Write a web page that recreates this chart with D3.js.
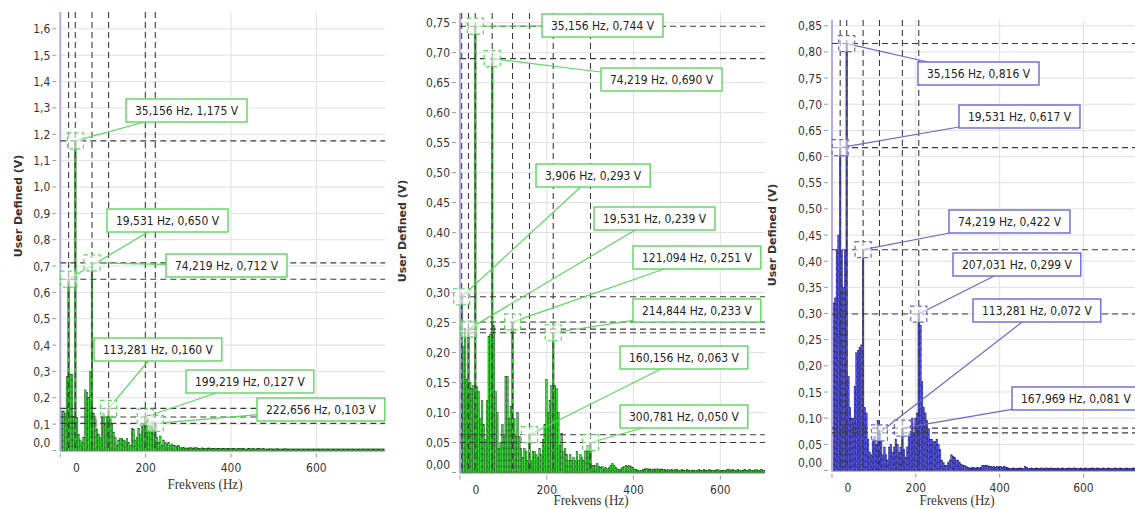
<!DOCTYPE html>
<html>
<head>
<meta charset="utf-8">
<script src="https://cdn.jsdelivr.net/npm/d3@7"></script>
<style>
  html, body { margin: 0; padding: 0; background: #fff; }
  svg { display: block; }
</style>
</head>
<body>
<svg id="chart" width="1135" height="509"></svg>
<script>
// FFT bin spacing in Hz (1000 Hz sample rate, 256 points)
const binWidth = 1000 / 256;

// Spectrum amplitudes (V) per FFT bin, one list per measurement
const spectrumA = [
  0.11, 0.15, 0.15, 0.14, 0.28, 0.650, 0.29, 0.29, 0.13, 1.175,
  0.125, 0.06, 0.04, 0.03, 0.05, 0.23, 0.22, 0.20, 0.30, 0.712,
  0.14, 0.12, 0.08, 0.06, 0.05, 0.13, 0.14, 0.10, 0.13, 0.160,
  0.12, 0.10, 0.07, 0.05, 0.02, 0.04, 0.045, 0.045, 0.04, 0.035,
  0.045, 0.03, 0.02, 0.085, 0.08, 0.04, 0.05, 0.085, 0.06, 0.09,
  0.10, 0.127, 0.09, 0.12, 0.09, 0.11, 0.08, 0.103, 0.05, 0.03,
  0.055, 0.02, 0.04, 0.03, 0.025, 0.03, 0.02, 0.025, 0.02, 0.02,
  0.015, 0.02, 0.012, 0.01, 0.012, 0.009, 0.01, 0.009, 0.012, 0.01,
  0.009, 0.012, 0.01, 0.009, 0.008, 0.01, 0.009, 0.007, 0.009, 0.01,
  0.009, 0.008, 0.007, 0.009, 0.008, 0.007, 0.008, 0.009, 0.007, 0.007,
  0.008, 0.007, 0.007, 0.007, 0.008, 0.007, 0.006, 0.007, 0.009, 0.008,
  0.007, 0.006, 0.006, 0.007, 0.008, 0.006, 0.007, 0.006, 0.007, 0.008,
  0.007, 0.006, 0.007, 0.006, 0.006, 0.006, 0.007, 0.006, 0.006, 0.006,
  0.007, 0.006, 0.006, 0.006, 0.006, 0.007, 0.006, 0.006, 0.006, 0.006,
  0.006, 0.006, 0.006, 0.006, 0.006, 0.006, 0.006, 0.006, 0.006, 0.006,
  0.006, 0.006, 0.006, 0.006, 0.006, 0.006, 0.006, 0.006, 0.006, 0.006,
  0.006, 0.006, 0.006, 0.006, 0.006, 0.006, 0.006, 0.006, 0.006, 0.006,
  0.006, 0.006, 0.006, 0.006, 0.006, 0.006, 0.006, 0.006, 0.006, 0.006,
  0.006, 0.006, 0.006, 0.006, 0.006, 0.006, 0.006, 0.006, 0.006, 0.006,
  0.006, 0.006, 0.006, 0.006, 0.006
];

const spectrumB = [
  0.21, 0.293, 0.21, 0.24, 0.155, 0.239, 0.15, 0.14, 0.145, 0.744,
  0.143, 0.135, 0.09, 0.12, 0.08, 0.055, 0.12, 0.227, 0.23, 0.690,
  0.245, 0.135, 0.10, 0.04, 0.05, 0.08, 0.06, 0.16, 0.16, 0.09,
  0.11, 0.251, 0.09, 0.06, 0.10, 0.06, 0.04, 0.025, 0.04, 0.035,
  0.02, 0.063, 0.02, 0.035, 0.035, 0.03, 0.025, 0.04, 0.03, 0.055,
  0.08, 0.155, 0.10, 0.12, 0.145, 0.233, 0.145, 0.14, 0.10, 0.045,
  0.065, 0.035, 0.04, 0.03, 0.02, 0.03, 0.02, 0.025, 0.02, 0.035,
  0.02, 0.03, 0.025, 0.02, 0.035, 0.045, 0.045, 0.050, 0.012, 0.012,
  0.012, 0.015, 0.01, 0.008, 0.01, 0.006, 0.008, 0.006, 0.008, 0.012,
  0.015, 0.012, 0.008, 0.006, 0.005, 0.006, 0.008, 0.01, 0.012, 0.01,
  0.012, 0.01, 0.008, 0.006, 0.005, 0.004, 0.003, 0.004, 0.005, 0.006,
  0.007, 0.006, 0.006, 0.005, 0.006, 0.005, 0.006, 0.006, 0.005, 0.006,
  0.005, 0.005, 0.004, 0.005, 0.004, 0.005, 0.004, 0.005, 0.005, 0.004,
  0.004, 0.005, 0.004, 0.004, 0.005, 0.004, 0.003, 0.004, 0.004, 0.003,
  0.004, 0.005, 0.004, 0.004, 0.005, 0.004, 0.004, 0.005, 0.004, 0.004,
  0.004, 0.004, 0.005, 0.004, 0.003, 0.004, 0.004, 0.004, 0.005, 0.005,
  0.004, 0.005, 0.004, 0.004, 0.005, 0.004, 0.004, 0.004, 0.005, 0.004,
  0.004, 0.005, 0.004, 0.004, 0.004, 0.005, 0.004, 0.004, 0.005, 0.004,
  0.004
];

const spectrumC = [
  0.12, 0.32, 0.33, 0.42, 0.45, 0.617, 0.42, 0.35, 0.42, 0.816,
  0.18, 0.12, 0.10, 0.10, 0.16, 0.225, 0.23, 0.235, 0.24, 0.422,
  0.12, 0.11, 0.06, 0.035, 0.03, 0.06, 0.065, 0.05, 0.095, 0.072,
  0.055, 0.03, 0.045, 0.03, 0.02, 0.045, 0.05, 0.035, 0.045, 0.06,
  0.05, 0.035, 0.045, 0.081, 0.04, 0.025, 0.045, 0.07, 0.075, 0.10,
  0.07, 0.10, 0.11, 0.299, 0.278, 0.17, 0.12, 0.11, 0.095, 0.08,
  0.06, 0.06, 0.055, 0.055, 0.06, 0.05, 0.04, 0.02, 0.015, 0.01,
  0.01, 0.015, 0.02, 0.03, 0.027, 0.025, 0.02, 0.02, 0.015, 0.012,
  0.01, 0.01, 0.008, 0.006, 0.005, 0.005, 0.006, 0.005, 0.005, 0.006,
  0.005, 0.006, 0.01, 0.01, 0.009, 0.01, 0.008, 0.008, 0.007, 0.008,
  0.006, 0.008, 0.007, 0.008, 0.006, 0.008, 0.007, 0.006, 0.004, 0.004,
  0.004, 0.005, 0.004, 0.004, 0.004, 0.005, 0.004, 0.004, 0.008, 0.006,
  0.004, 0.004, 0.005, 0.004, 0.004, 0.005, 0.004, 0.004, 0.005, 0.004,
  0.004, 0.005, 0.004, 0.004, 0.005, 0.004, 0.004, 0.004, 0.005, 0.004,
  0.004, 0.005, 0.004, 0.004, 0.004, 0.005, 0.004, 0.004, 0.005, 0.004,
  0.004, 0.004, 0.005, 0.004, 0.004, 0.005, 0.004, 0.004, 0.004, 0.005,
  0.004, 0.004, 0.005, 0.004, 0.004, 0.004, 0.005, 0.004, 0.004, 0.005,
  0.004, 0.004, 0.004, 0.005, 0.004, 0.004, 0.005, 0.004, 0.004, 0.004,
  0.005, 0.004, 0.004, 0.004, 0.005, 0.004
];

// Marked peak frequencies (Hz) for each measurement
const peaksA = [35.156, 19.531, 74.219, 113.281, 199.219, 222.656];
const peaksB = [35.156, 74.219, 3.906, 19.531, 121.094, 214.844, 160.156, 300.781];
const peaksC = [35.156, 19.531, 74.219, 207.031, 113.281, 167.969];

// Axis tick values
const xTicks = [0, 200, 400, 600];
const yTicksA = [0, 0.1, 0.2, 0.3, 0.4, 0.5, 0.6, 0.7, 0.8, 0.9, 1.0, 1.1, 1.2, 1.3, 1.4, 1.5, 1.6];
const yTicksB = [0, 0.05, 0.10, 0.15, 0.20, 0.25, 0.30, 0.35, 0.40, 0.45, 0.50, 0.55, 0.60, 0.65, 0.70, 0.75];
const yTicksC = [0, 0.05, 0.10, 0.15, 0.20, 0.25, 0.30, 0.35, 0.40, 0.45, 0.50, 0.55, 0.60, 0.65, 0.70, 0.75, 0.80, 0.85];

const xTitle = "Frekvens (Hz)";
const yTitle = "User Defined (V)";

// Callout box positions (left, top) in page pixels, in the order of each peak list
const calloutsA = [[126, 99], [107, 209], [166, 254], [94, 338], [186, 370], [257, 398]];
const calloutsB = [[542, 14], [601, 68], [536, 164], [594, 207], [633, 246], [633, 299], [620, 346], [620, 405]];
const calloutsC = [[918, 62], [959, 105], [949, 210], [953, 253], [973, 299], [1012, 387]];

const green = { fill: "#22c822", stroke: "#0c3a0c", stripe: "#7af57a", call: "#5cd65c" };
const blue  = { fill: "#3c3cd2", stroke: "#141456", stripe: "#9090ff", call: "#6767d6" };

const panels = [
  { series: spectrumA, peaks: peaksA, callouts: calloutsA, yTicks: yTicksA, yFmt: ".1f",
    left: 60.3, right: 385, top: 12, base: 450.5, yMax: 1.664, hzMax: 761,
    yTitlePos: [18, 206], xTitlePos: [205, 484], col: green },
  { series: spectrumB, peaks: peaksB, callouts: calloutsB, yTicks: yTicksB, yFmt: ".2f",
    left: 460, right: 765, top: 13, base: 472.5, yMax: 0.766, hzMax: 703,
    yTitlePos: [402, 231], xTitlePos: [591, 500], col: green },
  { series: spectrumC, peaks: peaksC, callouts: calloutsC, yTicks: yTicksC, yFmt: ".2f",
    left: 832, right: 1135, top: 20, base: 470.5, yMax: 0.861, hzMax: 723,
    yTitlePos: [772, 235], xTitlePos: [957, 500], col: blue }
];

const locale = d3.formatLocale({ decimal: ",", thousands: ".", grouping: [3], currency: ["", ""] });
const fmt3 = locale.format(".3f");

const sansSX = 0.86;   // horizontal squeeze applied to sans text
const svg = d3.select("#chart");

function sansText(g, x, y, str, anchor, size, color) {
  return g.append("text")
    .attr("transform", `translate(${x},${y}) scale(${sansSX},1)`)
    .attr("text-anchor", anchor)
    .attr("dy", "0.36em")
    .style("font-family", "'DejaVu Sans', sans-serif")
    .style("font-size", size + "px")
    .style("fill", color)
    .text(str);
}

panels.forEach((p, pi) => {
  const g = svg.append("g");
  const x = d3.scaleLinear().domain([0, p.hzMax]).range([p.left, p.right]);
  const y = d3.scaleLinear().domain([0, p.yMax]).range([p.base, p.top]);
  const fmtY = locale.format(p.yFmt);

  const clipId = "clip" + pi;
  svg.append("clipPath").attr("id", clipId)
    .append("rect").attr("x", p.left).attr("y", p.top)
    .attr("width", p.right - p.left).attr("height", p.base - p.top + 1);

  // grid
  g.append("g").selectAll("line").data(p.yTicks).join("line")
    .attr("x1", p.left).attr("x2", p.right)
    .attr("y1", d => y(d)).attr("y2", d => y(d))
    .attr("stroke", "#e0e0e0").attr("stroke-width", 1);
  g.append("g").selectAll("line").data(xTicks.filter(d => d > 0)).join("line")
    .attr("x1", d => x(d)).attr("x2", d => x(d))
    .attr("y1", p.top).attr("y2", p.base)
    .attr("stroke", "#e0e0e0").attr("stroke-width", 1);

  // axis ticks and labels
  g.append("g").selectAll("line").data(p.yTicks).join("line")
    .attr("x1", p.left - 8).attr("x2", p.left - 4)
    .attr("y1", d => y(d)).attr("y2", d => y(d))
    .attr("stroke", "#999");
  p.yTicks.forEach(t => {
    const yy = y(t) + (t === 0 ? -8 : 0);
    sansText(g, p.left - 10, yy, fmtY(t), "end", 12.5, "#333");
  });
  g.append("g").selectAll("line").data(xTicks).join("line")
    .attr("x1", d => x(d)).attr("x2", d => x(d))
    .attr("y1", p.base + 3).attr("y2", p.base + 7)
    .attr("stroke", "#999");
  xTicks.forEach(t => {
    const xx = x(t) + (t === 0 ? 16 : 0);
    sansText(g, xx, p.base + 16.8, String(t), "middle", 12.5, "#333");
  });

  // bottom axis line
  g.append("line").attr("x1", p.left).attr("x2", p.right)
    .attr("y1", p.base + 1).attr("y2", p.base + 1)
    .attr("stroke", "#bbb").attr("stroke-width", 1);

  // bars
  const bw = x(binWidth) - x(0);
  const plot = g.append("g").attr("clip-path", `url(#${clipId})`);
  const bars = p.series.map((v, k) => ({ f: k * binWidth, v }));
  plot.append("g").selectAll("rect").data(bars).join("rect")
    .attr("x", d => x(d.f) - bw / 2)
    .attr("y", d => y(d.v))
    .attr("width", bw)
    .attr("height", d => y(0) - y(d.v))
    .attr("fill", p.col.fill)
    .attr("stroke", p.col.stroke)
    .attr("stroke-width", 0.4);
  plot.append("g").selectAll("line").data(bars.filter(d => y(0) - y(d.v) > 4)).join("line")
    .attr("x1", d => x(d.f)).attr("x2", d => x(d.f))
    .attr("y1", d => y(d.v) + 1).attr("y2", y(0))
    .attr("stroke", p.col.stripe).attr("stroke-width", 0.5)
    .attr("stroke-opacity", 0.8)
    .attr("stroke-dasharray", "4,2");

  // left axis line
  g.append("line").attr("x1", p.left).attr("x2", p.left)
    .attr("y1", p.top).attr("y2", p.base + 1)
    .attr("stroke", "#b6abe6").attr("stroke-width", 2);

  // peak cursors
  const marks = p.peaks.map((f, i) => {
    const k = Math.round(f / binWidth);
    return { f, v: p.series[k], px: x(k * binWidth), py: y(p.series[k]), box: p.callouts[i] };
  });
  const cur = g.append("g").attr("clip-path", `url(#${clipId})`);
  marks.forEach(m => {
    cur.append("line").attr("x1", m.px).attr("x2", m.px).attr("y1", p.top).attr("y2", p.base)
      .attr("stroke", "#3c3c3c").attr("stroke-width", 1.1).attr("stroke-dasharray", "6,4");
    cur.append("line").attr("x1", p.left).attr("x2", p.right).attr("y1", m.py).attr("y2", m.py)
      .attr("stroke", "#3c3c3c").attr("stroke-width", 1.1).attr("stroke-dasharray", "6,4");
  });

  // callouts
  marks.forEach(m => {
    const cg = g.append("g");
    const label = `${fmt3(m.f)} Hz, ${fmt3(m.v)} V`;
    const [bx, by] = m.box;
    const t = sansText(cg, 0, 0, label, "start", 12.5, "#222");
    const tw = t.node().getComputedTextLength() * sansSX;
    const w = tw + 18, h = 23;
    t.attr("transform", `translate(${bx + 9},${by + h / 2}) scale(${sansSX},1)`);
    const cx = bx + w / 2, cy = by + h / 2;
    const dx = cx - m.px, dy = cy - m.py;
    const s = Math.min((w / 2) / Math.abs(dx || 1e-6), (h / 2) / Math.abs(dy || 1e-6));
    const ex = cx - dx * s, ey = cy - dy * s;
    cg.insert("line", "text").attr("x1", m.px).attr("y1", m.py).attr("x2", ex).attr("y2", ey)
      .attr("stroke", p.col.call).attr("stroke-width", 1.2);
    cg.insert("rect", "text").attr("x", m.px - 8).attr("y", m.py - 8).attr("width", 16).attr("height", 16)
      .attr("fill", "#fff").attr("fill-opacity", 0.55)
      .attr("stroke", p.col.call).attr("stroke-width", 1.2).attr("stroke-dasharray", "4,3");
    cg.insert("rect", "text").attr("x", bx).attr("y", by).attr("width", w).attr("height", h)
      .attr("fill", "#fff").attr("stroke", p.col.call).attr("stroke-width", 1.4);
  });

  // axis titles
  g.append("text")
    .attr("transform", `translate(${p.xTitlePos[0]},${p.xTitlePos[1]}) scale(0.87,1)`)
    .attr("text-anchor", "middle").attr("dy", "0.35em")
    .style("font-family", "'Liberation Serif', 'Times New Roman', serif")
    .style("font-size", "15px").style("fill", "#333")
    .text(xTitle);
  g.append("text")
    .attr("transform", `translate(${p.yTitlePos[0]},${p.yTitlePos[1]}) rotate(-90)`)
    .attr("text-anchor", "middle").attr("dy", "0.35em")
    .style("font-family", "'DejaVu Sans', sans-serif")
    .style("font-weight", "bold")
    .style("font-size", "11px").style("fill", "#333")
    .text(yTitle);
});
</script>
</body>
</html>
